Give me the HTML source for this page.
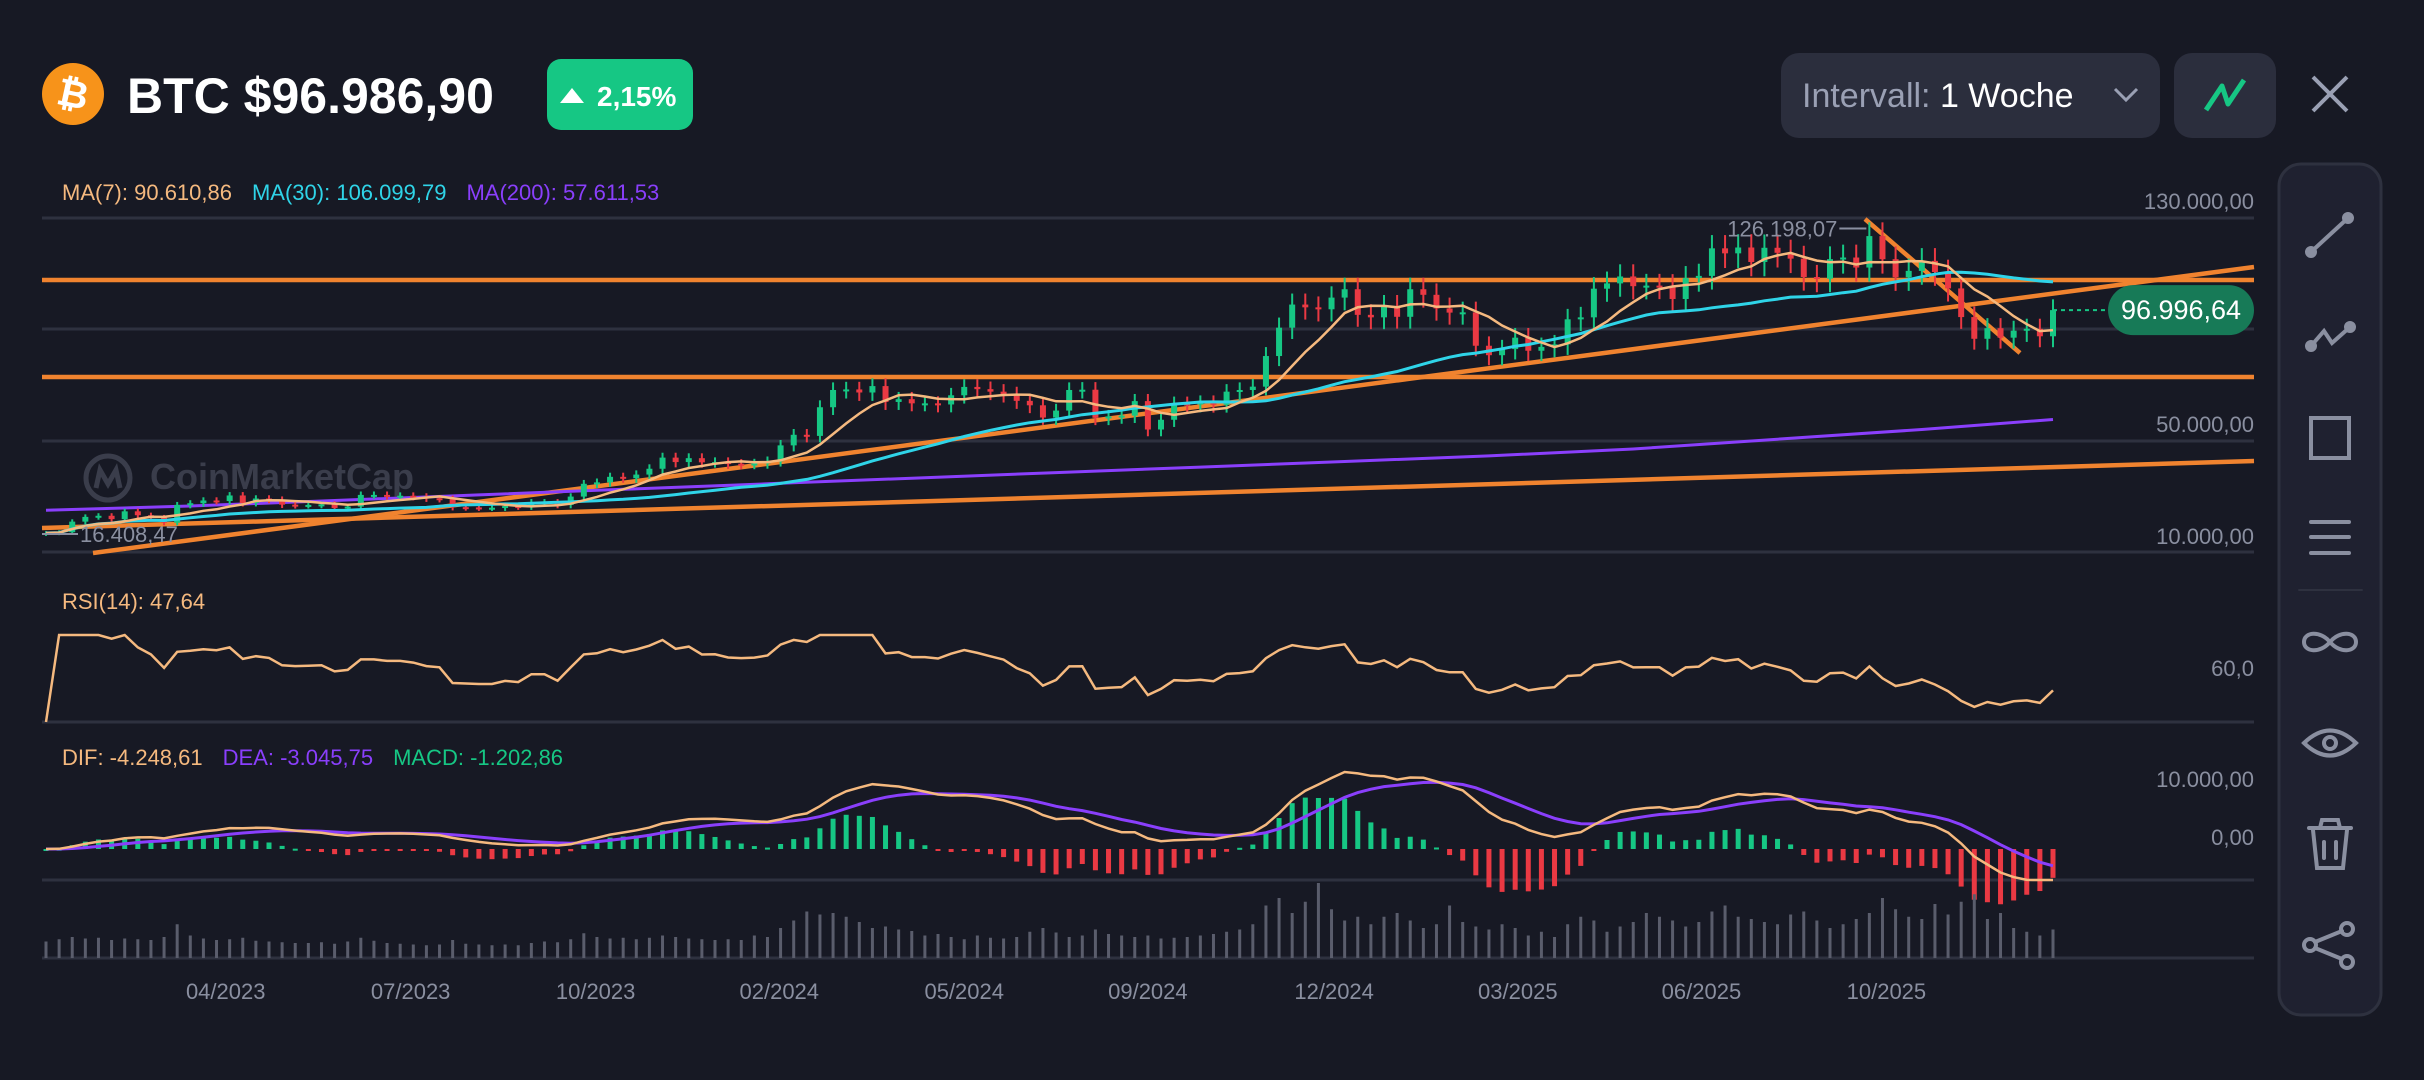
<!DOCTYPE html>
<html><head><meta charset="utf-8">
<style>
html,body{margin:0;padding:0;background:#171924;width:2424px;height:1080px;overflow:hidden}
svg{display:block;font-family:"Liberation Sans",sans-serif}
</style></head>
<body>
<svg id="chart" width="2424" height="1080" viewBox="0 0 2424 1080">
<rect x="0" y="0" width="2424" height="1080" fill="#171924"/>
<g>
  <circle cx="73" cy="94" r="31" fill="#f7931a"/>
  <text x="73" y="107" text-anchor="middle" font-size="38" font-weight="bold" fill="#fff" transform="rotate(12 73 94)">₿</text>
  <text x="127" y="113" font-size="50" font-weight="bold" fill="#ffffff">BTC $96.986,90</text>
  <g>
    <rect x="547" y="59" width="146" height="71" rx="14" fill="#16c784"/>
    <polygon points="560,103 572,88 584,103" fill="#fff"/>
    <text x="597" y="106" font-size="28" font-weight="bold" fill="#fff">2,15%</text>
  </g>
  <g>
    <rect x="1781" y="53" width="379" height="85" rx="18" fill="#2b2e3d"/>
    <text x="1802" y="107" font-size="34" fill="#9aa0b4">Intervall: <tspan fill="#ffffff">1 Woche</tspan></text>
    <polyline points="2115,89 2126,100 2137,89" fill="none" stroke="#9aa0b4" stroke-width="3"/>
  </g>
  <g>
    <rect x="2174" y="53" width="102" height="85" rx="18" fill="#2b2e3d"/>
    <polyline points="2206,110 2222,86 2228,104 2244,80" fill="none" stroke="#16c784" stroke-width="5" stroke-linejoin="round"/>
  </g>
  <g stroke="#9aa0b4" stroke-width="4">
    <line x1="2313" y1="77" x2="2347" y2="111"/><line x1="2347" y1="77" x2="2313" y2="111"/>
  </g>
</g>
<g fill="none" stroke="#8a8fa0" stroke-width="4" stroke-linecap="round">
  <rect x="2279" y="164" width="102" height="851" rx="22" fill="#1f2130" stroke="#2e313f" stroke-width="3"/>
  <g><line x1="2311" y1="252" x2="2348" y2="218"/><circle cx="2311" cy="252" r="4" fill="#8a8fa0"/><circle cx="2348" cy="218" r="4" fill="#8a8fa0"/></g>
  <g><polyline points="2311,346 2324,331 2332,343 2350,327"/><circle cx="2311" cy="346" r="4" fill="#8a8fa0"/><circle cx="2350" cy="327" r="4" fill="#8a8fa0"/></g>
  <g><rect x="2311" y="418" width="38" height="40"/></g>
  <g><line x1="2311" y1="522" x2="2349" y2="522"/><line x1="2311" y1="537" x2="2349" y2="537"/><line x1="2311" y1="553" x2="2349" y2="553"/></g>
  <line x1="2299" y1="590" x2="2362" y2="590" stroke="#2e313f" stroke-width="2"/>
  <g><path d="M2330,642 C2320,630 2304,632 2304,642 C2304,652 2320,654 2330,642 C2340,630 2356,632 2356,642 C2356,652 2340,654 2330,642Z"/></g>
  <g><path d="M2304,743 Q2330,718 2356,743 Q2330,768 2304,743Z"/><circle cx="2330" cy="743" r="6"/></g>
  <g><line x1="2309" y1="828" x2="2351" y2="828"/><path d="M2313,830 L2317,868 L2343,868 L2347,830"/><line x1="2324" y1="842" x2="2324" y2="858"/><line x1="2336" y1="842" x2="2336" y2="858"/><path d="M2320,828 L2322,820 L2338,820 L2340,828"/></g>
  <g><circle cx="2310" cy="945" r="6"/><circle cx="2347" cy="929" r="6"/><circle cx="2347" cy="962" r="6"/><line x1="2315" y1="942" x2="2342" y2="931"/><line x1="2315" y1="948" x2="2342" y2="959"/></g>
</g>
<g id="grid" stroke="#2e313f" stroke-width="3">
  <line x1="42" y1="218" x2="2254" y2="218"/><line x1="42" y1="329" x2="2254" y2="329"/>
  <line x1="42" y1="441" x2="2254" y2="441"/><line x1="42" y1="552" x2="2254" y2="552"/>
  <line x1="42" y1="722" x2="2254" y2="722"/><line x1="42" y1="880" x2="2254" y2="880"/>
  <line x1="42" y1="958" x2="2254" y2="958"/>
</g>
<g font-size="22" fill="#8a8fa0" text-anchor="end">
  <text x="2254" y="209">130.000,00</text>
  <text x="2254" y="432">50.000,00</text>
  <text x="2254" y="544">10.000,00</text>
  <text x="2254" y="676">60,0</text>
  <text x="2254" y="787">10.000,00</text>
  <text x="2254" y="845">0,00</text>
</g>
<g font-size="22">
  <text x="62" y="200"><tspan fill="#f5b97f">MA(7): 90.610,86</tspan><tspan fill="#2fd4e8" dx="20">MA(30): 106.099,79</tspan><tspan fill="#8a3ffc" dx="20">MA(200): 57.611,53</tspan></text>
  <text x="62" y="609" fill="#f5b97f">RSI(14): 47,64</text>
  <text x="62" y="765"><tspan fill="#f5b97f">DIF: -4.248,61</tspan><tspan fill="#8a3ffc" dx="20">DEA: -3.045,75</tspan><tspan fill="#16c784" dx="20">MACD: -1.202,86</tspan></text>
</g>
<text x="150" y="489" font-size="36" font-weight="bold" fill="#3a3d4b">CoinMarketCap</text>
<g fill="none" stroke="#3a3d4b" stroke-width="5"><circle cx="108" cy="478" r="22"/><path d="M96,488 L100,470 L108,484 L116,470 L120,488"/></g>
<g id="marks"></g>
</svg>
<script>
const closes=[16.8,17.1,20.9,22.6,23.0,21.8,24.6,23.2,22.4,20.5,26.9,27.5,28.5,28.3,30.3,27.6,29.2,28.8,27.0,26.8,26.9,27.1,25.8,26.3,30.5,30.5,30.2,30.2,29.9,29.3,29.1,26.1,26.0,25.9,25.9,26.5,26.3,27.9,27.9,26.9,29.9,34.5,35.0,37.0,36.5,37.8,39.9,43.9,42.3,43.7,42.2,42.3,
41.7,41.6,41.8,42.6,48.3,52.1,51.7,62.0,68.2,68.4,67.3,69.6,63.9,64.9,63.4,63.4,63.0,66.3,69.3,68.5,67.6,66.7,64.3,62.7,58.3,60.8,68.2,68.3,58.2,58.7,59.0,64.2,54.0,57.5,63.3,63.0,63.7,62.9,67.6,68.2,69.4,80.4,90.6,98.9,97.9,
97.2,101.4,104.4,95.2,94.3,98.4,94.5,104.4,102.4,97.5,96.0,96.1,84.1,80.7,82.9,87.0,82.3,83.7,84.6,93.6,94.3,104.6,106.5,109.0,105.5,105.7,105.6,100.9,108.4,109.2,119.1,117.3,119.4,114.2,119.3,117.5,115.4,108.8,108.2,115.2,115.8,112.2,123.5,115.2,108.7,111.0,114.6,110.6,104.7,94.4,86.6,90.4,87.0,89.5,90.2,87.5,96.9];
const volumes=[22,25,28,26,27,24,26,25,24,28,45,30,26,24,25,27,23,22,21,20,20,21,19,22,27,23,20,19,18,17,18,24,19,18,17,18,17,20,22,21,25,33,28,26,27,25,27,30,28,26,25,24,
25,24,30,28,40,50,62,58,60,55,48,40,42,38,36,30,32,28,25,30,27,26,28,35,40,34,28,30,38,32,30,28,30,26,27,28,30,32,35,38,45,70,80,60,75,
100,65,50,55,45,55,60,50,40,45,70,48,42,38,45,40,30,35,28,45,55,50,35,42,48,60,55,50,42,48,62,70,55,52,48,45,58,62,50,40,45,52,60,80,65,55,52,72,58,75,85,52,60,40,35,30,38];
const ma200Idx=[0,11,22,33,44,55,66,77,88,99,110,121,132,143,153];
const ma200Vals=[25,26.5,28.5,30.5,32.5,34.5,36.5,38.5,40.5,42.5,44.5,47,50.5,54,57.6];
const xTickLabels=['04/2023','07/2023','10/2023','02/2024','05/2024','09/2024','12/2024','03/2025','06/2025','10/2025'];
const xTickIdx=[13.7,27.8,41.9,55.9,70,84,98.2,112.2,126.2,140.3];
const firstOpen=16.5;
const lastPriceLabel='96.996,64';
const athLabel='126.198,07';
const lowLabel='16.408,47';

const NS='http://www.w3.org/2000/svg';
const g=document.getElementById('marks');
const n=closes.length;
const X0=46,X1=2053;
const sp=(X1-X0)/(n-1);
function xS(i){return X0+i*sp;}
function yP(v){return 218+(130-v)*2.783;}
function yR(v){return 672-(v-60)*1.4;}
function yM(v){return 849-v/1000*7.05;}
function yH(v){return 849-v/1000*14;}
function yV(v){return 958-v*0.75;}
function el(t,a,parent){const e=document.createElementNS(NS,t);for(const k in a)e.setAttribute(k,a[k]);(parent||g).appendChild(e);return e;}
function pathFrom(xs,ys){let d='';for(let i=0;i<xs.length;i++){d+=(i?'L':'M')+xs[i].toFixed(1)+','+ys[i].toFixed(1);}return d;}

const ann=el('g',{stroke:'#f0832f','stroke-width':4.5,fill:'none'});


el('line',{x1:42,y1:280,x2:2254,y2:280},ann);
el('line',{x1:42,y1:377,x2:2254,y2:377},ann);
el('line',{x1:93,y1:553,x2:2254,y2:267},ann);
el('line',{x1:42,y1:528,x2:2254,y2:461},ann);
el('line',{x1:1865,y1:219,x2:2020,y2:353},ann);

const m200=el('path',{d:pathFrom(ma200Idx.map(xS),ma200Vals.map(yP)),stroke:'#8a3ffc','stroke-width':3,fill:'none'});



const cg=el('g',{});


let maxI=0;
for(let i=0;i<n;i++){
  const o=i?closes[i-1]:firstOpen,c=closes[i];
  const up=c>=o,col=up?'#16c784':'#ea3943';
  const hi=Math.max(o,c)*1.04,lo=Math.min(o,c)*0.955;
  if(closes[i]>closes[maxI])maxI=i;
  const x=xS(i);
  const w=el('line',{x1:x,x2:x,y1:yP(hi),y2:yP(lo),stroke:col,'stroke-width':2},cg);
  
  
  const top=yP(Math.max(o,c)),bot=yP(Math.min(o,c));
  const b=el('rect',{x:x-3,y:top,width:6,height:Math.max(2,bot-top),fill:col},cg);
  
  
}
function sma(arr,p){return arr.map((v,i)=>{const s=Math.max(0,i-p+1);let t=0;for(let j=s;j<=i;j++)t+=arr[j];return t/(i-s+1);});}
const xsAll=closes.map((v,i)=>xS(i));
const m30=el('path',{d:pathFrom(xsAll,sma(closes,30).map(yP)),stroke:'#2fd4e8','stroke-width':3,fill:'none'});


const m7=el('path',{d:pathFrom(xsAll,sma(closes,7).map(yP)),stroke:'#f5b97f','stroke-width':2.5,fill:'none'});



const ax=xS(maxI),ay=yP(closes[maxI]*1.022);
const al=el('line',{x1:ax-30,x2:ax-3,y1:ay,y2:ay,stroke:'#8a8fa0','stroke-width':2});


const at=el('text',{x:ax-32,y:ay+8,'font-size':22,fill:'#8a8fa0','text-anchor':'end'});
at.textContent=athLabel;


const ll=el('line',{x1:42,x2:78,y1:534,y2:534,stroke:'#8a8fa0','stroke-width':2});


const lt=el('text',{x:80,y:542,'font-size':22,fill:'#8a8fa0'});
lt.textContent=lowLabel;



const ly=yP(closes[n-1]);
const dl=el('line',{x1:xS(n-1),x2:2110,y1:ly,y2:ly,stroke:'#16c784','stroke-width':2,'stroke-dasharray':'4,4'});


const pill=el('rect',{x:2108,y:ly-25,width:146,height:50,rx:25,fill:'#177a57'});


const pt=el('text',{x:2181,y:ly+9,'font-size':27,fill:'#ffffff','text-anchor':'middle'});
pt.textContent=lastPriceLabel;



const rsi=[];let ag=0,al2=0;
for(let i=0;i<n;i++){
  if(i===0){rsi.push(50);continue;}
  const d=closes[i]-closes[i-1],gn=Math.max(d,0),ls=Math.max(-d,0);
  if(i<=14){ag=(ag*(i-1)+gn)/i;al2=(al2*(i-1)+ls)/i;}else{ag=(ag*13+gn)/14;al2=(al2*13+ls)/14;}
  rsi.push(al2===0?100:100-100/(1+ag/al2));
}
const rsiY=rsi.map(v=>Math.min(722,Math.max(635,yR(v))));
rsiY[0]=722;
const rl=el('path',{d:pathFrom(xsAll,rsiY),stroke:'#f5b97f','stroke-width':2.5,fill:'none'});



function ema(arr,p){const k=2/(p+1);const out=[];arr.forEach((v,i)=>out.push(i?v*k+out[i-1]*(1-k):v));return out;}
const cd=closes.map(v=>v*1000);
const e12=ema(cd,12),e26=ema(cd,26);
const dif=e12.map((v,i)=>v-e26[i]);
const dea=ema(dif,9);
const hg=el('g',{});


for(let i=0;i<n;i++){
  const h=dif[i]-dea[i],y0=yH(0),y1=yH(h);
  const r=el('rect',{x:xS(i)-2.5,y:Math.min(y0,y1),width:5,height:Math.max(2,Math.abs(y1-y0)),fill:h>=0?'#16c784':'#ea3943'},hg);
  
  
}
const clampM=v=>Math.min(880,Math.max(760,yM(v)));
const dl2=el('path',{d:pathFrom(xsAll,dea.map(clampM)),stroke:'#8a3ffc','stroke-width':3,fill:'none'});


const dfl=el('path',{d:pathFrom(xsAll,dif.map(clampM)),stroke:'#f5b97f','stroke-width':2.5,fill:'none'});



const vg=el('g',{});


volumes.forEach((v,i)=>{
  const r=el('rect',{x:xS(i)-1.5,y:yV(v),width:3,height:958-yV(v),fill:'#5a5d6c'},vg);
  
  
});

const xg=el('g',{'font-size':22,fill:'#8a8fa0','text-anchor':'middle'});


xTickLabels.forEach((t,k)=>{
  const e=el('text',{x:xS(xTickIdx[k]),y:999},xg);
  e.textContent=t;
  
  
});
</script>
</body></html>
